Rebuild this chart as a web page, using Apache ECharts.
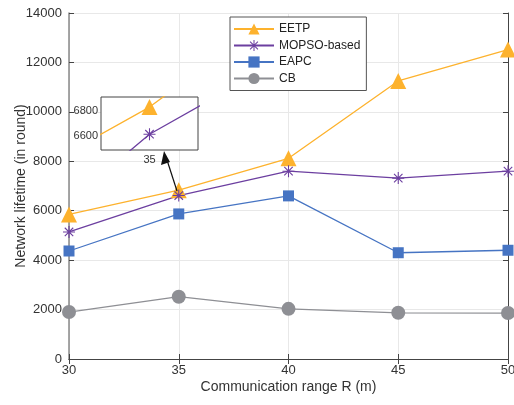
<!DOCTYPE html>
<html>
<head>
<meta charset="utf-8">
<script src="https://cdn.jsdelivr.net/npm/echarts@6/dist/echarts.min.js"></script>
<style>
  html,body{margin:0;padding:0;background:#fff;}
  #chart{width:514px;height:405px;}
</style>
</head>
<body>
<div id="chart"></div>
<script>
"use strict";

// data
var ranges=[30,35,40,45,50];
var eetp=[5850,6830,8120,11250,12520];
var mopso=[5140,6615,7600,7320,7600];
var eapc=[4370,5870,6600,4300,4400];
var cb=[1900,2520,2030,1870,1860];
var yTicks=[0,2000,4000,6000,8000,10000,12000,14000];
var insetX=[35];
var insetY=[6600,6800];

var FONT='"Liberation Sans", Arial, sans-serif';
var C_EETP='#FDB22D', C_MOPSO='#6C3FA0', C_EAPC='#4674C3', C_CB='#8E8F94';

// asterisk marker (MATLAB '*')
var STAR='path://M-0.9,-10L0.9,-10L0.9,10L-0.9,10Z M-10,-0.9L10,-0.9L10,0.9L-10,0.9Z '+
  'M-7.7,-6.4L-6.4,-7.7L7.7,6.4L6.4,7.7Z M6.4,-7.7L7.7,-6.4L-6.4,7.7L-7.7,6.4Z';

function pairs(vals){
  return ranges.map(function(x,i){return [x,vals[i]];});
}

var chart=echarts.init(document.getElementById('chart'));

function mkSeries(name,vals,color,symbol,size,xi,yi,main){
  return {
    name:name,type:'line',data:pairs(vals),
    xAxisIndex:xi,yAxisIndex:yi,
    symbol:symbol,symbolSize:size,
    lineStyle:{color:color,width:1.3},
    itemStyle:{color:color},
    clip:true,z:main?3:12,
    animation:false
  };
}

var option={
  animation:false,
  textStyle:{fontFamily:FONT},
  legend:{
    left:230,top:17,orient:'vertical',
    data:['EETP','MOPSO-based','EAPC','CB'],
    itemWidth:40,itemHeight:14,itemGap:4.5,
    padding:[6,6,6,3],
    borderColor:'#555',borderWidth:1,backgroundColor:'#fff',
    textStyle:{fontFamily:FONT,fontSize:12,color:'#222'},
    z:20
  },
  grid:[
    {left:69,right:6,top:13,bottom:46,containLabel:false,outerBoundsMode:'none'},
    {left:101,top:97,width:97,height:53,show:true,backgroundColor:'#fff',borderColor:'#444',borderWidth:1,z:10,
     containLabel:false,outerBoundsMode:'none'}
  ],
  xAxis:[
    {type:'value',gridIndex:0,min:30,max:50,interval:5,
     name:'Communication range R (m)',nameLocation:'middle',nameGap:21,nameMoveOverlap:false,
     nameTextStyle:{fontFamily:FONT,fontSize:14,color:'#333'},
     axisLine:{lineStyle:{color:'#444'}},
     axisTick:{inside:true,length:5,lineStyle:{color:'#444'}},
     axisLabel:{fontSize:13,color:'#333',margin:5,showMaxLabel:true},
     splitLine:{show:true,lineStyle:{color:'#e8e8e8'}}},
    {type:'value',gridIndex:0,position:'top',min:30,max:50,interval:5,
     axisLine:{lineStyle:{color:'#444'}},
     axisTick:{inside:true,length:5,lineStyle:{color:'#444'}},
     axisLabel:{show:false},splitLine:{show:false}},
    {type:'value',gridIndex:1,min:33.9,max:36.1,
     axisLine:{show:false},
     axisTick:{inside:true,length:3,customValues:insetX,lineStyle:{color:'#444'}},
     axisLabel:{customValues:insetX,fontSize:11,color:'#333',margin:4},
     splitLine:{show:false}}
  ],
  yAxis:[
    {type:'value',gridIndex:0,min:0,max:14000,interval:2000,
     name:'Network lifetime (in round)',nameLocation:'middle',nameGap:41,nameMoveOverlap:false,
     nameTextStyle:{fontFamily:FONT,fontSize:14,color:'#333'},
     axisLine:{show:true,lineStyle:{color:'#888',width:1.5}},
     axisTick:{show:true,inside:true,length:5,lineStyle:{color:'#444'}},
     axisLabel:{fontSize:13,color:'#333',margin:7,
       formatter:function(v){return yTicks.indexOf(v)>=0?String(v):'';}},
     splitLine:{show:true,lineStyle:{color:'#e8e8e8'}}},
    {type:'value',gridIndex:0,position:'right',min:0,max:14000,interval:2000,
     axisLine:{show:true,lineStyle:{color:'#444'}},
     axisTick:{show:true,inside:true,length:5,lineStyle:{color:'#444'}},
     axisLabel:{show:false},splitLine:{show:false}},
    {type:'value',gridIndex:1,min:6490,max:6910,
     axisLine:{show:false},
     axisTick:{show:true,inside:true,length:3,customValues:insetY,lineStyle:{color:'#444'}},
     axisLabel:{customValues:insetY,fontSize:11,color:'#333',margin:3,
       formatter:function(v){return String(v);}},
     splitLine:{show:false}}
  ],
  series:[
    mkSeries('EETP',eetp,C_EETP,'triangle',16,0,0,true),
    mkSeries('MOPSO-based',mopso,C_MOPSO,STAR,12,0,0,true),
    mkSeries('EAPC',eapc,C_EAPC,'rect',11,0,0,true),
    mkSeries('CB',cb,C_CB,'circle',14,0,0,true),
    mkSeries('EETP',eetp,C_EETP,'triangle',16,2,2,false),
    mkSeries('MOPSO-based',mopso,C_MOPSO,STAR,12,2,2,false)
  ],
  graphic:[
    {type:'line',shape:{x1:177,y1:191,x2:167,y2:160},
     style:{stroke:'#111',lineWidth:1.2},z:30},
    {type:'polygon',shape:{points:[[164,151],[161,165],[170,162]]},
     style:{fill:'#111'},z:30}
  ]
};

chart.setOption(option);
</script>
</body>
</html>
